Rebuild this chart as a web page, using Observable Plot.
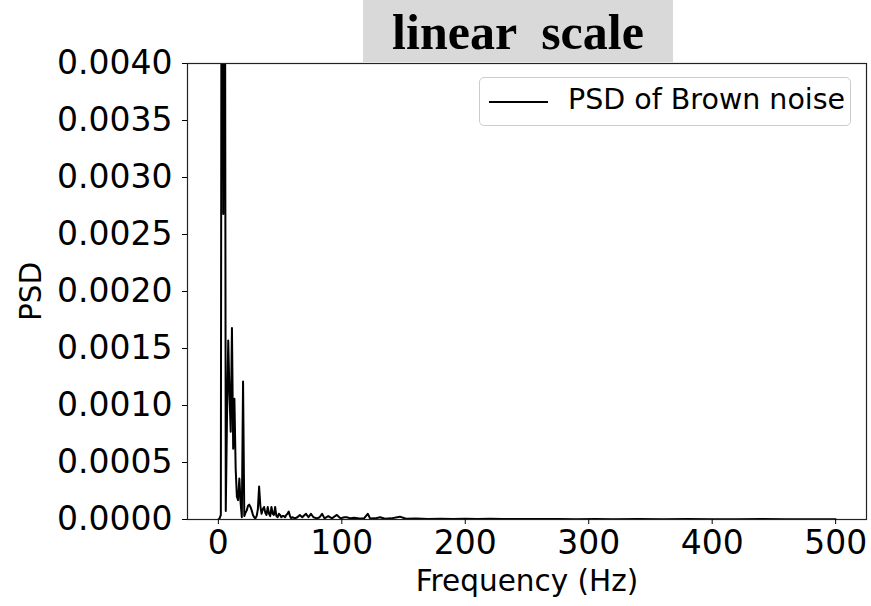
<!DOCTYPE html>
<html>
<head>
<meta charset="utf-8">
<script src="https://cdn.jsdelivr.net/npm/d3@7"></script>
<script src="https://cdn.jsdelivr.net/npm/@observablehq/plot@0.6"></script>
<style>
  html, body { margin: 0; padding: 0; background: #fff; }
  #wrap { position: relative; width: 871px; height: 606px; overflow: hidden; background: #fff; }
  #title {
    position: absolute; left: 363px; top: 0; width: 310px; height: 62px;
    background: #d9d9d9; color: #000;
    font-family: "Liberation Serif", "Times New Roman", serif; font-weight: bold;
    font-size: 50px; line-height: 64px; text-align: center; white-space: pre;
  }
  #legend {
    position: absolute; left: 479px; top: 77px; width: 372px; height: 49px;
    box-sizing: border-box; border: 1px solid #cccccc; border-radius: 5px;
    background: rgba(255,255,255,0.8);
    font-family: "DejaVu Sans", sans-serif; font-size: 28.5px; color: #000;
  }
  #legend svg { position: absolute; left: 9px; top: 22px; }
  #legend span { position: absolute; left: 88px; top: 4px; line-height: 36px; white-space: nowrap; }
  #chart g[aria-label="x-axis label"], #chart g[aria-label="y-axis label"] { font-size: 29.5px; }
</style>
</head>
<body>
<div id="wrap">
  <div id="chart"></div>
  <div id="title">linear  scale</div>
  <div id="legend">
    <svg width="60" height="4"><line x1="0" y1="2" x2="59" y2="2" stroke="#000" stroke-width="2"/></svg>
    <span>PSD of Brown noise</span>
  </div>
</div>
<script>
// Frequency (Hz)
const freq = [
  0, 1, 2, 3, 4, 5, 6, 7, 8, 9, 10, 11, 12, 13, 14, 15, 16, 17, 18, 19,
  20, 21, 22, 23, 24, 25, 26, 27, 28, 29, 30, 31, 32, 33, 34, 35, 36, 37, 38, 39,
  40, 41, 42, 43, 44, 45, 46, 47, 48, 49, 50, 51, 52, 53, 54, 55, 56, 57, 58, 59, 60,
  62, 64, 66, 68, 69, 71, 73, 75, 77, 80, 82, 84, 86, 89, 92, 96, 99,
  102, 104, 107, 110, 114, 118, 121, 123, 127, 131, 135, 140, 147, 152, 160,
  170, 180, 190, 200, 210, 220, 230, 245, 260, 275, 290, 305, 320, 340, 360,
  380, 400, 420, 440, 460, 480, 500
];
// PSD values
const psd = [
  0.000000, 0.000010, 0.000040, 0.009500, 0.002680, 0.008000, 0.000075, 0.000900, 0.001570, 0.001100,
  0.000770, 0.001680, 0.000620, 0.001060, 0.000450, 0.000200, 0.000170, 0.000360, 0.000150, 0.000020,
  0.001210, 0.000030, 0.000060, 0.000080, 0.000120, 0.000130, 0.000110, 0.000080, 0.000040, 0.000020,
  0.000010, 0.000030, 0.000090, 0.000290, 0.000120, 0.000050, 0.000090, 0.000110, 0.000060, 0.000040,
  0.000110, 0.000050, 0.000030, 0.000110, 0.000050, 0.000040, 0.000110, 0.000030, 0.000020, 0.000050,
  0.000040, 0.000020, 0.000030, 0.000030, 0.000020, 0.000040, 0.000050, 0.000070, 0.000030, 0.000010,
  0.000020,
  0.000010, 0.000020, 0.000040, 0.000020, 0.000030, 0.000050, 0.000020, 0.000050, 0.000020, 0.000010,
  0.000020, 0.000050, 0.000010, 0.000030, 0.000010, 0.000040, 0.000010,
  0.000020, 0.000020, 0.000010, 0.000015, 0.000008, 0.000010, 0.000050, 0.000008, 0.000010, 0.000020,
  0.000006, 0.000010, 0.000025, 0.000006, 0.000008,
  0.000005, 0.000007, 0.000004, 0.000006, 0.000004, 0.000006, 0.000004, 0.000005, 0.000004, 0.000005,
  0.000003, 0.000004, 0.000003, 0.000004, 0.000003,
  0.000004, 0.000003, 0.000003, 0.000004, 0.000003, 0.000003, 0.000003
];
const xTicks = [0, 100, 200, 300, 400, 500];
const yTicks = [0, 0.0005, 0.001, 0.0015, 0.002, 0.0025, 0.003, 0.0035, 0.004];

const data = freq.map((f, i) => ({f, p: psd[i]}));

const chart = Plot.plot({
  width: 871,
  height: 606,
  marginLeft: 187,
  marginRight: 5,
  marginTop: 63,
  marginBottom: 87,
  style: {fontFamily: "DejaVu Sans", fontSize: "33px", color: "#000", background: "#fff", overflow: "visible"},
  x: {domain: [-25, 525]},
  y: {domain: [0, 0.004]},
  marks: [
    Plot.line(data, {x: "f", y: "p", stroke: "#000", strokeWidth: 2, clip: true}),
    Plot.frame({stroke: "#222", strokeWidth: 1.2}),
    Plot.axisX({ticks: xTicks, tickSize: 5, tickPadding: 6, tickFormat: d => String(d),
      label: "Frequency (Hz)", labelAnchor: "center", labelArrow: "none", labelOffset: 71}),
    Plot.axisY({ticks: yTicks, tickSize: 5, tickPadding: 10, tickFormat: d3.format(".4f"),
      label: "PSD", labelAnchor: "center", labelArrow: "none", labelOffset: 167})
  ]
});
document.getElementById("chart").appendChild(chart);
</script>
</body>
</html>
